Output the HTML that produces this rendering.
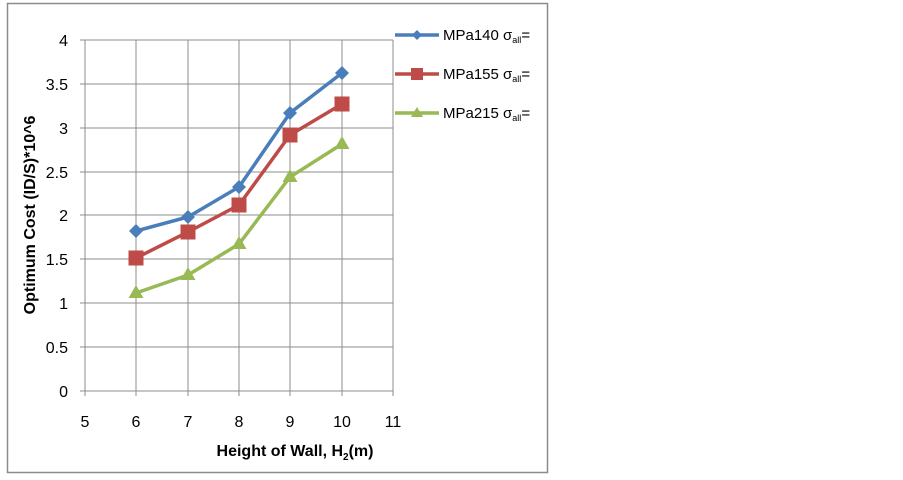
<!DOCTYPE html>
<html><head><meta charset="utf-8"><style>
body{margin:0;background:#fff;}
svg{display:block;font-family:"Liberation Sans",Arial,sans-serif;}
</style></head><body>
<svg width="903" height="480" xmlns="http://www.w3.org/2000/svg">
<rect x="7.5" y="3.5" width="540" height="469" fill="#fff" stroke="#8c8c8c" stroke-width="1.5"/>
<g stroke="#8c8c8c" stroke-width="1">
<line x1="85" y1="40" x2="393" y2="40"/>
<line x1="85" y1="84" x2="393" y2="84"/>
<line x1="85" y1="128" x2="393" y2="128"/>
<line x1="85" y1="172" x2="393" y2="172"/>
<line x1="85" y1="215" x2="393" y2="215"/>
<line x1="85" y1="259" x2="393" y2="259"/>
<line x1="85" y1="303" x2="393" y2="303"/>
<line x1="85" y1="347" x2="393" y2="347"/>
<line x1="85" y1="391" x2="393" y2="391"/>
<line x1="85" y1="40" x2="85" y2="396"/>
<line x1="136" y1="40" x2="136" y2="396"/>
<line x1="188" y1="40" x2="188" y2="396"/>
<line x1="239" y1="40" x2="239" y2="396"/>
<line x1="290" y1="40" x2="290" y2="396"/>
<line x1="342" y1="40" x2="342" y2="396"/>
<line x1="393" y1="40" x2="393" y2="396"/>
<line x1="80" y1="40" x2="85" y2="40"/><line x1="80" y1="84" x2="85" y2="84"/><line x1="80" y1="128" x2="85" y2="128"/><line x1="80" y1="172" x2="85" y2="172"/><line x1="80" y1="215" x2="85" y2="215"/><line x1="80" y1="259" x2="85" y2="259"/><line x1="80" y1="303" x2="85" y2="303"/><line x1="80" y1="347" x2="85" y2="347"/><line x1="80" y1="391" x2="85" y2="391"/>
</g>
<g font-size="16" fill="#000" text-anchor="end">
<text x="68" y="46">4</text><text x="68" y="90">3.5</text><text x="68" y="134">3</text><text x="68" y="178">2.5</text><text x="68" y="221">2</text><text x="68" y="265">1.5</text><text x="68" y="309">1</text><text x="68" y="353">0.5</text><text x="68" y="397">0</text>
</g>
<g font-size="16" fill="#000" text-anchor="middle">
<text x="85" y="427">5</text><text x="136" y="427">6</text><text x="188" y="427">7</text><text x="239" y="427">8</text><text x="290" y="427">9</text><text x="342" y="427">10</text><text x="393" y="427">11</text>
</g>
<text x="295" y="456" font-size="16" font-weight="bold" text-anchor="middle">Height of Wall, H<tspan font-size="10" dy="4">2</tspan><tspan dy="-4">(m)</tspan></text>
<text transform="translate(35,215) rotate(-90)" font-size="16" font-weight="bold" text-anchor="middle">Optimum Cost (ID/S)*10^6</text>
<polyline points="136,231 188,217 239,187 290,113 342,73" fill="none" stroke="#4a7ebb" stroke-width="3.5"/>
<g fill="#4a7ebb"><path d="M136,224l7,7-7,7-7-7z"/><path d="M188,210l7,7-7,7-7-7z"/><path d="M239,180l7,7-7,7-7-7z"/><path d="M290,106l7,7-7,7-7-7z"/><path d="M342,66l7,7-7,7-7-7z"/></g>
<polyline points="136,258 188,232 239,205 290,135 342,104" fill="none" stroke="#be4b48" stroke-width="3.5"/>
<g fill="#be4b48"><rect x="128.5" y="250.5" width="15" height="15"/><rect x="180.5" y="224.5" width="15" height="15"/><rect x="231.5" y="197.5" width="15" height="15"/><rect x="282.5" y="127.5" width="15" height="15"/><rect x="334.5" y="96.5" width="15" height="15"/></g>
<polyline points="136,293 188,275 239,244 290,177 342,144" fill="none" stroke="#98b954" stroke-width="3.5"/>
<g fill="#98b954"><path d="M136,285l7.5,13h-15z"/><path d="M188,267l7.5,13h-15z"/><path d="M239,236l7.5,13h-15z"/><path d="M290,169l7.5,13h-15z"/><path d="M342,136l7.5,13h-15z"/></g>
<line x1="395" y1="35" x2="439" y2="35" stroke="#4a7ebb" stroke-width="3.5"/><path d="M417,30l5,5-5,5-5-5z" fill="#4a7ebb"/>
<line x1="395" y1="74" x2="439" y2="74" stroke="#be4b48" stroke-width="3.5"/><rect x="411" y="68" width="12" height="12" fill="#be4b48"/>
<line x1="395" y1="113" x2="439" y2="113" stroke="#98b954" stroke-width="3.5"/><path d="M417,107l6,10h-12z" fill="#98b954"/>
<g font-size="15" fill="#000">
<text x="443" y="40">MPa140 σ<tspan font-size="9" dy="3">all</tspan><tspan dy="-3">=</tspan></text>
<text x="443" y="79">MPa155 σ<tspan font-size="9" dy="3">all</tspan><tspan dy="-3">=</tspan></text>
<text x="443" y="118">MPa215 σ<tspan font-size="9" dy="3">all</tspan><tspan dy="-3">=</tspan></text>
</g>
</svg>
</body></html>
